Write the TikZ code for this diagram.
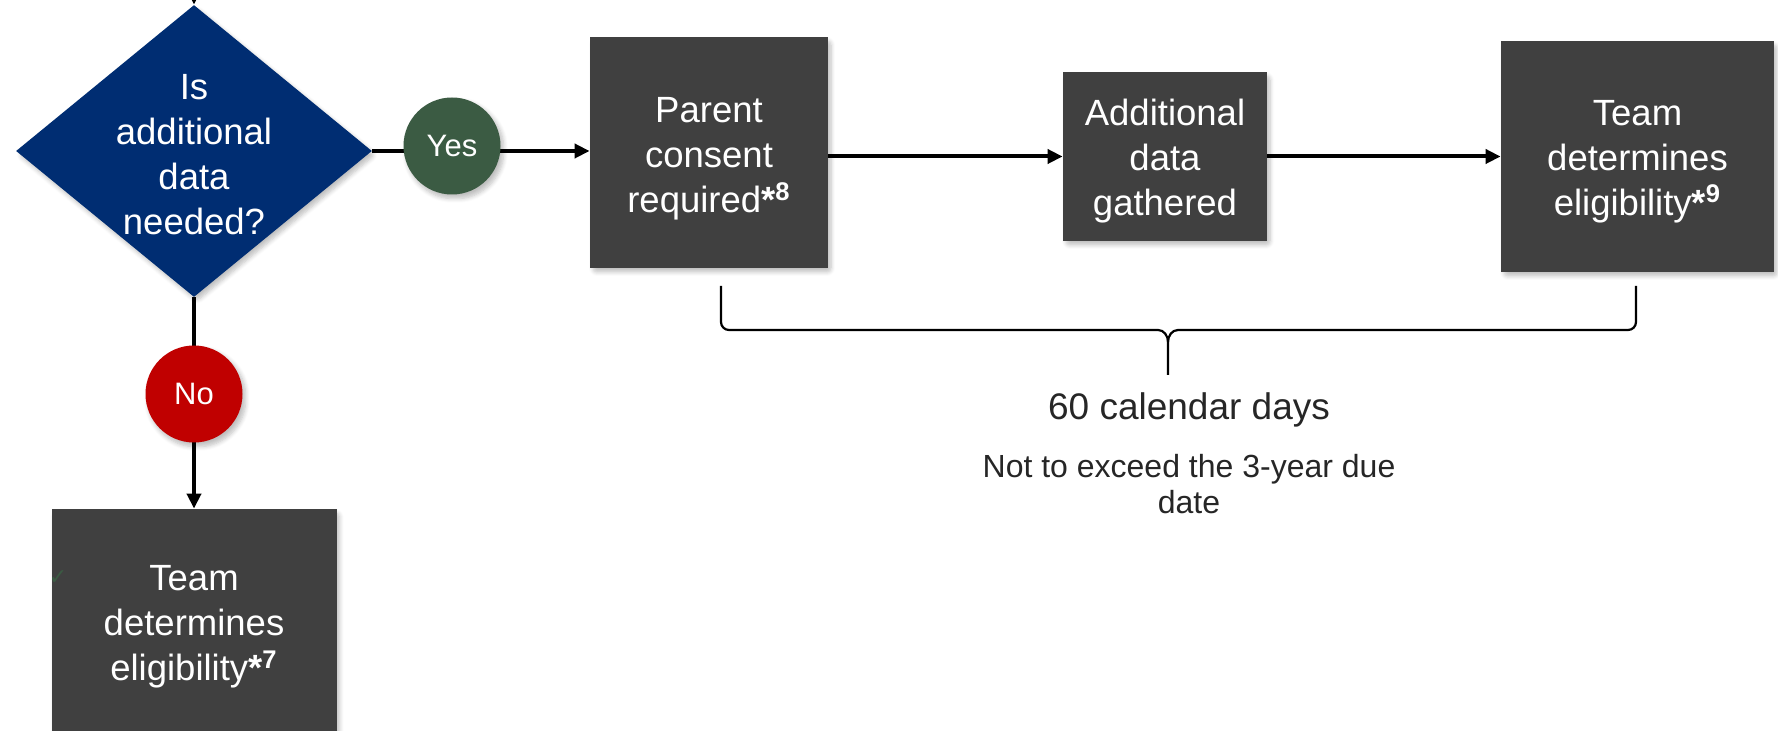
\documentclass[tikz,border=0pt]{standalone}
\usepackage{fontspec}
\setmainfont{Liberation Sans}
\newfontfamily\dejavu{DejaVu Sans}
\usetikzlibrary{shapes.geometric,arrows.meta,shadows.blur}
\definecolor{boxgrey}{HTML}{404040}
\definecolor{navyblue}{HTML}{002D72}
\definecolor{yesgreen}{HTML}{3B5B43}
\definecolor{nored}{HTML}{C00000}
\definecolor{txtgrey}{HTML}{262626}
\newcommand\fnote[1]{\textbf{*}\textsuperscript{\textbf{#1}}}
\tikzset{
  softshadow/.style={blur shadow={shadow blur steps=6, shadow xshift=1.5pt, shadow yshift=-2pt, shadow opacity=25, shadow blur extra rounding=2pt}},
  stepbox/.style={rectangle, fill=boxgrey, inner sep=0pt, softshadow},
  boxtext/.style={text=white, align=center, inner sep=0pt, font=\fontsize{18.25}{22.5}\selectfont},
  decision/.style={diamond, fill=navyblue, inner sep=0pt, minimum width=178pt, minimum height=146pt, aspect=1.22, softshadow},
  badge/.style={circle, inner sep=0pt, minimum size=48.5pt, text=white, font=\fontsize{15.5}{18}\selectfont, softshadow},
  conn/.style={line width=2pt, black},
  arr/.style={conn, -{Triangle[length=7.5pt,width=7pt]}},
  braceline/.style={line width=1.1pt, black, line join=round},
  days/.style={text=txtgrey, font=\fontsize{18.5}{22}\selectfont},
  notetext/.style={text=txtgrey, align=center, font=\fontsize{16}{18}\selectfont}
}
\begin{document}
\begin{tikzpicture}[x=0.5pt,y=-0.5pt]
\useasboundingbox (0,0) rectangle (1778,731);

% shapes
\node[decision] (dia) at (194,151) {};
\node[boxtext] (diatext) at (194,155) {Is\\additional\\data\\needed?};
\node[stepbox, minimum width=119pt, minimum height=115.5pt] (par) at (709,152.5) {};
\node[boxtext] (partext) at (709,159) {Parent\\consent\\required\fnote{8}};
\node[stepbox, minimum width=102pt, minimum height=84.5pt] (add) at (1165,156.5) {};
\node[boxtext] (addtext) at (1165,161) {Additional\\data\\gathered};
\node[stepbox, minimum width=136.5pt, minimum height=115.5pt] (team9) at (1637.5,156.5) {};
\node[boxtext] (team9text) at (1637.5,161.5) {Team\\determines\\eligibility\fnote{9}};
\node[stepbox, minimum width=142.5pt, minimum height=115.5pt] (team7) at (194,624.5) {};
\node[boxtext] (team7text) at (194,627) {Team\\determines\\eligibility\fnote{7}};
\node[text=yesgreen, font=\dejavu\fontsize{11}{11}\selectfont] (chk) at (58,578) {✓};

% connectors
\coordinate (topin) at (194,-30);
\draw[arr] (topin) -- (dia.north);
\draw[arr] (dia.east) -- (dia.east -| par.west);
\draw[arr] (par.east |- add.west) -- (add.west);
\draw[arr] (add.east) -- (team9.west);
\draw[arr] (dia.south) -- (team7.north);

% badges
\node[badge, fill=yesgreen] (yes) at (452,146) {Yes};
\node[badge, fill=nored] (no) at (194,394) {No};

% brace
\coordinate (bl) at (721,286);
\coordinate (br) at (1636,286);
\coordinate (bm) at (1168,375);
\draw[braceline] (bl) -- (721,322) to[out=-90,in=180] (729,330) -- (1158,330)
  to[out=0,in=90] (1168,342) -- (bm);
\draw[braceline] (br) -- (1636,322) to[out=-90,in=0] (1628,330) -- (1178,330)
  to[out=180,in=90] (1168,342);

\node[days] (dayslabel) at (1189,410) {60 calendar days};
\node[notetext] (note) at (1189,484) {Not to exceed the 3-year due\\date};
\end{tikzpicture}
\end{document}
